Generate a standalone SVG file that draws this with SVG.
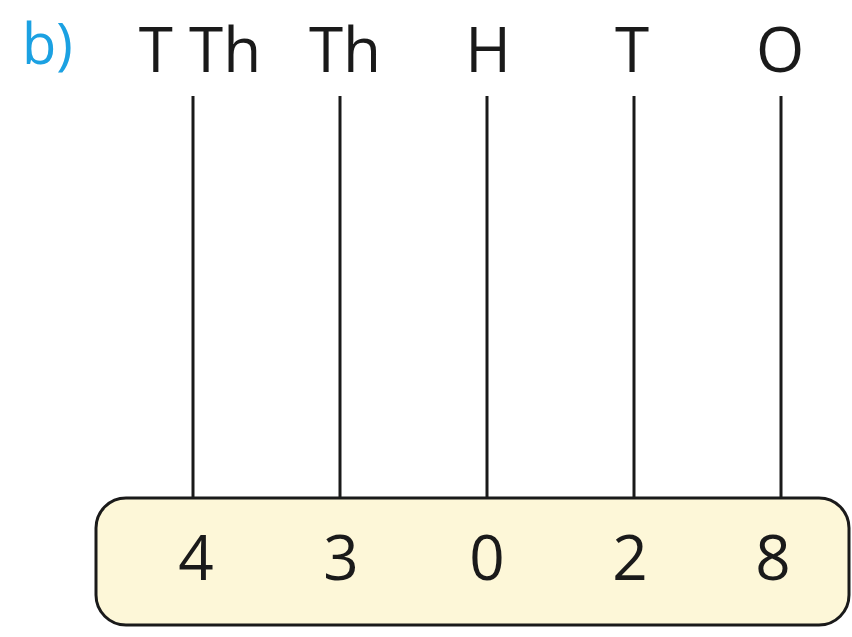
<svg xmlns="http://www.w3.org/2000/svg" width="852" height="637" viewBox="0 0 852 637">
<style>
.lbl{font-family:"Open Sans","Noto Sans",sans-serif;font-size:62px;fill:#1a1a1a;text-anchor:middle}
.ln{stroke:#1a1a1a;stroke-width:3;fill:none}
</style>
<rect width="852" height="637" fill="#ffffff"/>
<text x="22" y="64" style="font-family:'Open Sans','Noto Sans',sans-serif;font-size:56px;fill:#1ba1e2">b)</text>
<g id="labels">
<text class="lbl" x="200" y="72">T Th</text>
<text class="lbl" x="345" y="72">Th</text>
<text class="lbl" x="488" y="72">H</text>
<text class="lbl" x="632" y="72">T</text>
<text class="lbl" x="780" y="72">O</text>
</g>
<g id="connectors">
<line class="ln" x1="193" y1="96" x2="193" y2="498"/>
<line class="ln" x1="340" y1="96" x2="340" y2="498"/>
<line class="ln" x1="487" y1="96" x2="487" y2="498"/>
<line class="ln" x1="634" y1="96" x2="634" y2="498"/>
<line class="ln" x1="781" y1="96" x2="781" y2="498"/>
</g>
<g id="box">
<rect x="96" y="498" width="753" height="127" rx="30" ry="30" fill="#fdf7d8" stroke="#1a1a1a" stroke-width="3"/>
<text class="lbl" x="196" y="580">4</text>
<text class="lbl" x="341" y="580">3</text>
<text class="lbl" x="487" y="580">0</text>
<text class="lbl" x="630" y="580">2</text>
<text class="lbl" x="773" y="580">8</text>
</g>
</svg>
